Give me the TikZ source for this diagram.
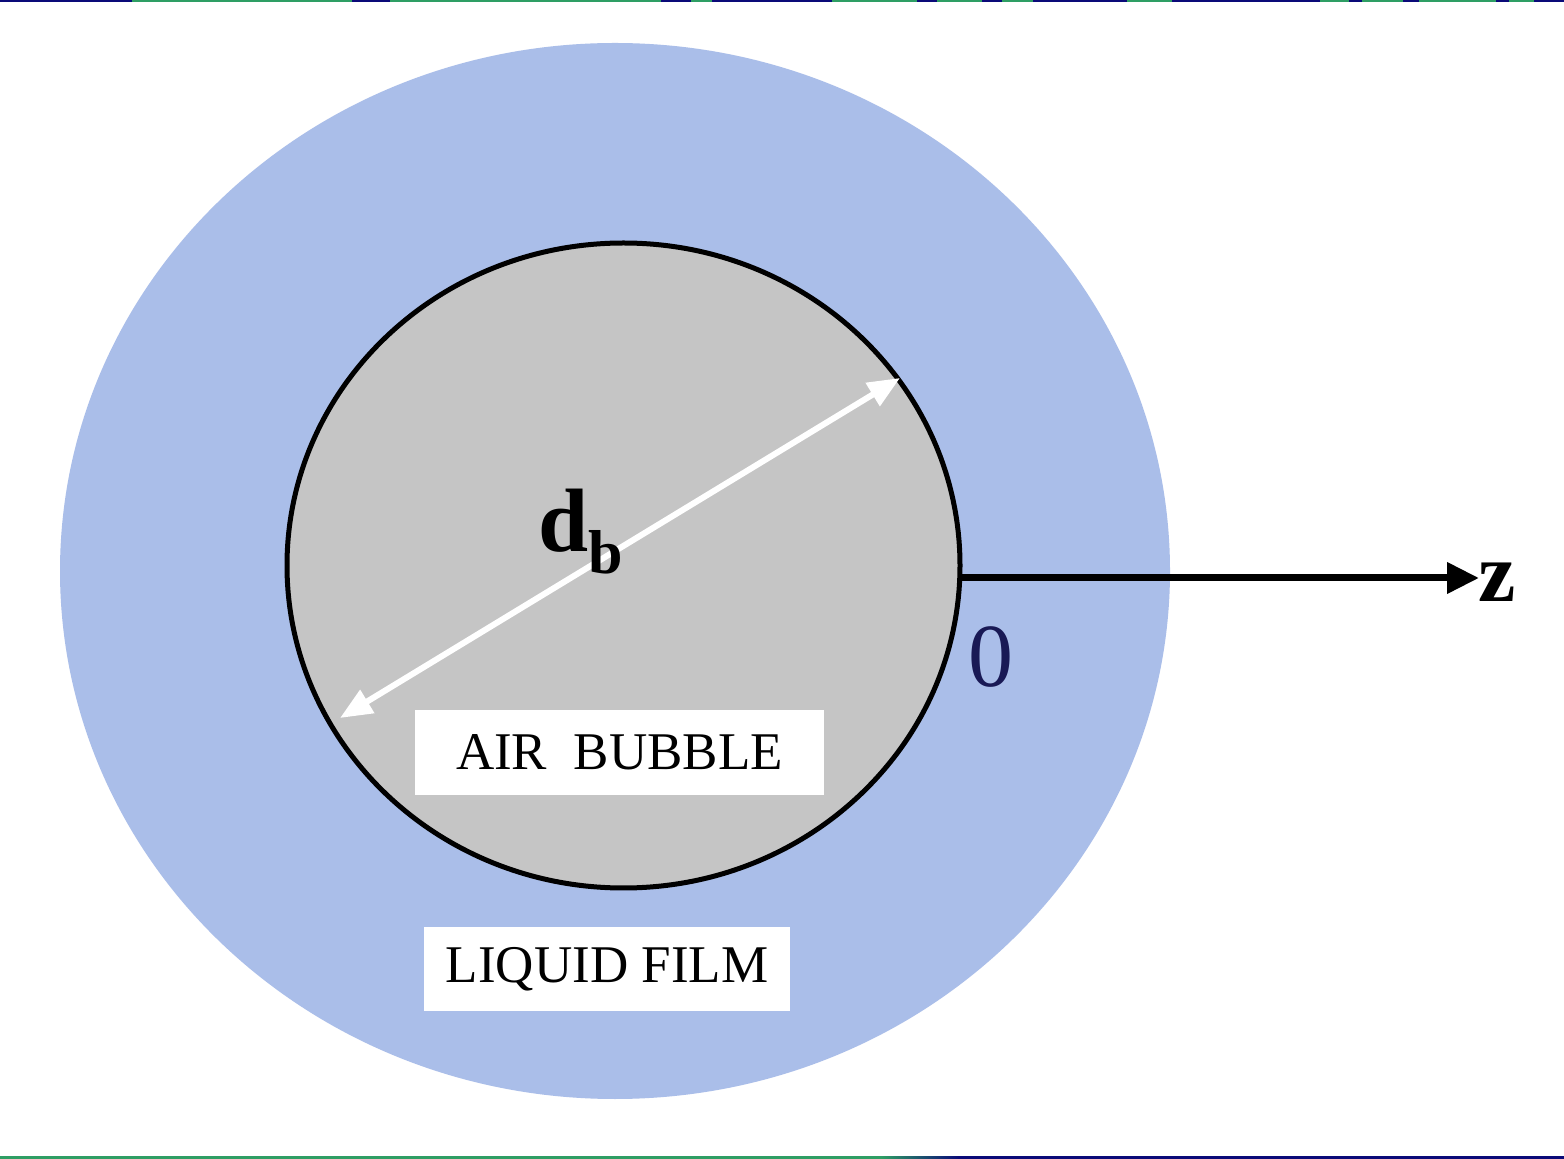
\documentclass[tikz,border=0pt]{standalone}
\usepackage{fontspec}
\setmainfont{Liberation Serif}
\usetikzlibrary{arrows.meta}
\definecolor{film}{RGB}{170,190,233}
\definecolor{bubble}{RGB}{197,197,197}
\definecolor{navy}{RGB}{10,10,120}
\definecolor{rulegreen}{RGB}{46,158,100}
\definecolor{zeroblue}{RGB}{25,25,85}
\tikzset{
  labelbox/.style={fill=white, inner sep=0pt, font=\fontsize{26.5}{30}\selectfont},
  whitetip/.style={Triangle[length=16pt,width=13pt]},
}
\begin{document}
\begin{tikzpicture}[x=0.5pt,y=-0.5pt]
\useasboundingbox (0,0) rectangle (1564,1159);
\fill[white] (0,0) rectangle (1564,1159);
% top rule
\fill[navy] (0,0) rectangle (1564,2);
\foreach \a/\b in {132/352,390/661,691/712,832/917,937/982,1002/1033,1127/1172,1320/1349,1362/1403,1419/1496,1509/1534}
  \fill[rulegreen] (\a,0) rectangle (\b,2);
% bottom rule
\fill[rulegreen] (0,1156) rectangle (882,1159);
\shade[left color=rulegreen, right color=navy] (881,1156) rectangle (959,1159);
\fill[navy] (958,1156) rectangle (1564,1159);
% liquid film
\fill[film] (615,571) ellipse [x radius=555, y radius=528];
% bubble
\draw[line width=2.5pt, fill=bubble] (623.5,565.5) ellipse [x radius=336.5, y radius=322.5];
% diameter arrow
\coordinate (dl) at (340,718);
\coordinate (dr) at (900,378);
\draw[white, line width=3pt, {Triangle[length=16pt,width=13pt]}-{Triangle[length=16pt,width=13pt]}] (dl) -- (dr);
\node[font=\bfseries\fontsize{45}{50}\selectfont, inner sep=0pt, anchor=base west] (db) at (538,552) {d\raisebox{-0.24em}{\fontsize{31}{34}\selectfont b}};
% z axis
\coordinate (o) at (958,578);
\node[font=\bfseries\fontsize{42}{46}\selectfont, inner sep=0pt, anchor=base west] (z) at (1478,602) {z};
\draw[line width=3.5pt, -{Triangle[length=16pt,width=15pt]}] (o) -- (1479,578);
\node[font=\fontsize{45}{50}\selectfont, text=zeroblue, inner sep=0pt, anchor=base] (zero) at (991,687) {0};
% labels
\node[labelbox, minimum width=204.5pt, minimum height=42.5pt] (air) at (619.5,752.5) {AIR\ \ BUBBLE};
\node[labelbox, minimum width=183pt, minimum height=42pt] (liq) at (607,969) {LIQUID FILM};
\end{tikzpicture}
\end{document}
